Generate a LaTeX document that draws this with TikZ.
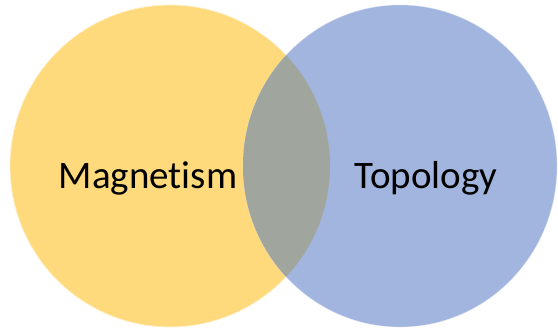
\documentclass[tikz,border=0pt]{standalone}
\usepackage{fontspec}
\setmainfont[Ligatures=NoCommon]{Carlito}
\definecolor{magyellow}{HTML}{FFDA7D}
\definecolor{topblue}{HTML}{A1B5DF}
\definecolor{overlapgray}{HTML}{A0A69E}
\begin{document}
\begin{tikzpicture}[x=1pt,y=1pt,
  setlabel/.style={anchor=base,inner sep=0pt,font=\fontsize{39}{44}\selectfont,text=black}]
\useasboundingbox (0,0) rectangle (558,331);
\fill[magyellow] (170,165) ellipse [x radius=160, y radius=161];
\draw[white!60!magyellow,line width=0.7pt] (170,165) ellipse [x radius=160, y radius=161];
\fill[topblue] (400,165) ellipse [x radius=157, y radius=161];
\draw[white!60!topblue,line width=0.6pt,opacity=0.6] (400,165) ellipse [x radius=157, y radius=161];
\begin{scope}
  \clip (170,165) ellipse [x radius=160, y radius=161];
  \fill[overlapgray] (400,165) ellipse [x radius=157, y radius=161];
\end{scope}
\node[setlabel] (mag) at (148,142) {Magnetism};
\node[setlabel] (top) at (426,142) {Topology};
\end{tikzpicture}
\end{document}
